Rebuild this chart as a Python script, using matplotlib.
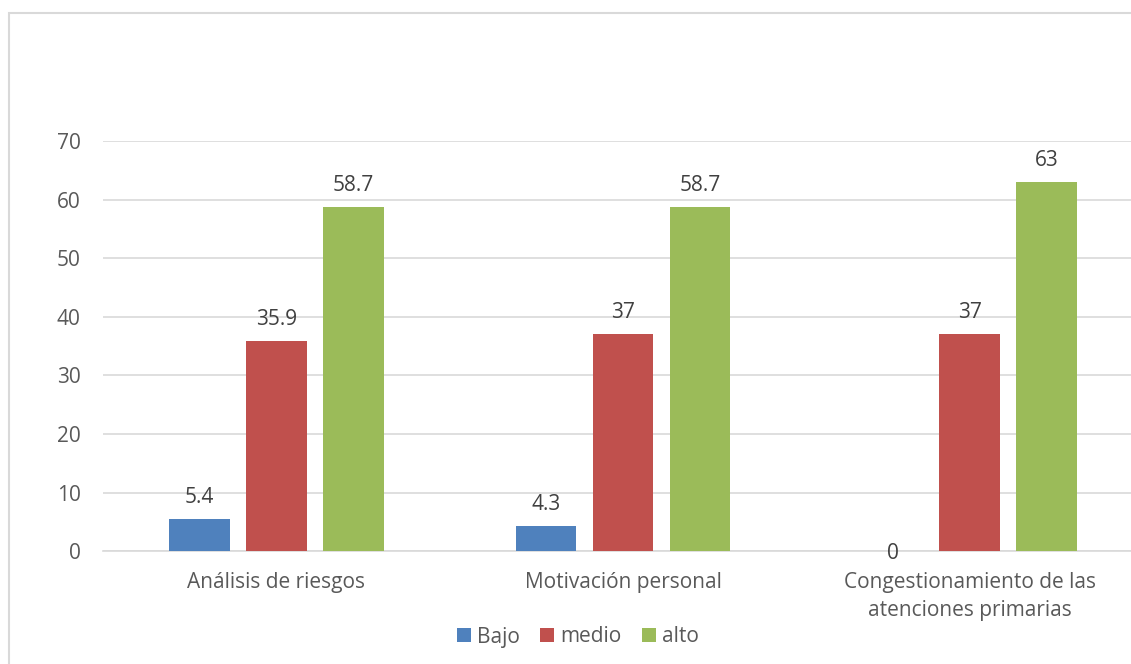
import numpy as np
import matplotlib.pyplot as plt
from matplotlib.patches import Rectangle

# === Datos ===
categorias = ["Análisis de riesgos", "Motivación personal",
              "Congestionamiento de las\natenciones primarias"]
bajo = [5.4, 4.3, 0]
medio = [35.9, 37, 37]
alto = [58.7, 58.7, 63]
series = ["Bajo", "medio", "alto"]
colores = ["#4F81BD", "#C0504D", "#9BBB59"]

plt.rcParams['font.family'] = ['Open Sans', 'DejaVu Sans']
gris = "#595959"
fs = 15

fig = plt.figure(figsize=(11.31, 6.64), dpi=100)
# el area del grafico sigue un poco mas alla del borde derecho
ax = fig.add_axes([103 / 1131, 0.170, 1040 / 1131, 0.6175])

# marco del grafico
fig.patches.append(Rectangle((9 / 1131, -0.1), 1.2, 1.1 - 13 / 664, transform=fig.transFigure,
                             fill=False, edgecolor="#D9D9D9", linewidth=1.5))

x = np.arange(len(categorias))
ancho = 0.175
paso = 0.222
for i, (vals, nombre, col) in enumerate(zip([bajo, medio, alto], series, colores)):
    pos = x + (i - 1) * paso
    barras = ax.bar(pos, vals, ancho, color=col, label=nombre, zorder=3)
    for b, v in zip(barras, vals):
        if v == 0:
            ax.annotate(f"{v:g}", (b.get_x() + b.get_width() / 2, v), xytext=(0, -2),
                        textcoords="offset points", ha="center", va="center",
                        fontsize=fs, color="#404040")
        else:
            ax.annotate(f"{v:g}", (b.get_x() + b.get_width() / 2, v), xytext=(0, 8),
                        textcoords="offset points", ha="center", va="bottom",
                        fontsize=fs, color="#404040")

ax.set_xlim(-0.5, 2.5)
ax.set_ylim(0, 70)
ax.set_yticks(range(0, 71, 10))
ax.grid(axis="y", color="#D9D9D9", linewidth=1.2, zorder=0)
ax.set_xticks(x)
ax.set_xticklabels(categorias, fontsize=fs, color=gris, linespacing=1.45)
ax.tick_params(axis="y", labelsize=fs, labelcolor=gris, length=0, pad=16)
ax.tick_params(axis="x", length=0, pad=15)
for s in ["top", "right", "left"]:
    ax.spines[s].set_visible(False)
ax.spines["bottom"].set_color("#D9D9D9")
ax.spines["bottom"].set_linewidth(1.2)

fig.legend(loc="center", bbox_to_anchor=(578 / 1131, 1 - 637 / 664), ncol=3, frameon=False,
           fontsize=fs, labelcolor=gris, handlelength=0.65, handleheight=0.65,
           handletextpad=0.3, columnspacing=1.0, borderpad=0)

fig.savefig("out.png", dpi=100)
